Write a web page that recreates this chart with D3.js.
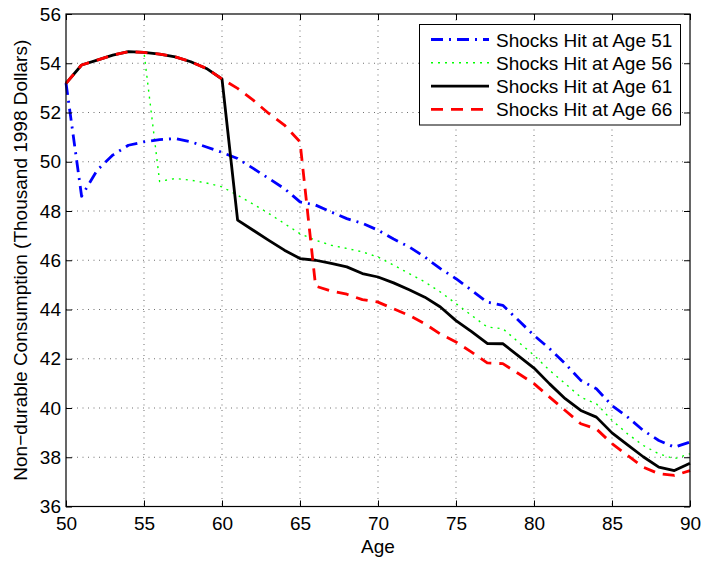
<!DOCTYPE html>
<html><head><meta charset="utf-8">
<script src="https://cdn.jsdelivr.net/npm/d3@7"></script>
<style>body{margin:0;background:#fff}svg{display:block}text{font-family:"Liberation Sans",Arial,sans-serif}</style>
</head><body><svg id="c" width="704" height="561"></svg>
<script>
const ages = d3.range(50, 91);
const xTicks = [50,55,60,65,70,75,80,85,90];
const yTicks = [36,38,40,42,44,46,48,50,52,54,56];
const seriesNames = ["Shocks Hit at Age 51","Shocks Hit at Age 56","Shocks Hit at Age 61","Shocks Hit at Age 66"];
const age51 = [53.2,48.6,49.66,50.27,50.67,50.81,50.9,50.94,50.81,50.6,50.38,50.13,49.73,49.32,48.91,48.37,48.24,47.96,47.69,47.5,47.22,46.86,46.54,46.13,45.66,45.25,44.78,44.3,44.17,43.56,42.95,42.41,41.8,41.12,40.78,40.1,39.63,39.09,38.68,38.41,38.62];
const age56 = [53.18,53.93,54.13,54.33,54.47,54.44,49.2,49.32,49.25,49.14,48.98,48.64,48.28,47.9,47.49,47.08,46.81,46.61,46.48,46.34,46.13,45.8,45.46,45.12,44.71,44.24,43.76,43.29,43.22,42.68,42.14,41.53,40.99,40.44,40.17,39.5,38.95,38.48,38.14,37.94,38.14];
const age61 = [53.18,53.93,54.13,54.33,54.47,54.44,54.37,54.26,54.06,53.79,53.36,47.63,47.22,46.81,46.41,46.07,46.0,45.87,45.73,45.46,45.32,45.08,44.8,44.5,44.1,43.55,43.1,42.62,42.61,42.12,41.62,40.98,40.38,39.9,39.63,38.99,38.5,38.02,37.6,37.46,37.76];
const age66 = [53.18,53.93,54.13,54.33,54.47,54.44,54.37,54.26,54.06,53.79,53.36,52.98,52.5,51.96,51.49,50.81,44.95,44.75,44.62,44.4,44.3,44.03,43.76,43.42,43.0,42.68,42.27,41.83,41.8,41.4,40.99,40.44,39.9,39.36,39.15,38.55,38.07,37.6,37.33,37.26,37.46];

const svg = d3.select("#c");
const L=66,R=690,T=14,B=506.5;
const FS=19;
const x = d3.scaleLinear().domain([50,90]).range([L,R]);
const y = d3.scaleLinear().domain([36,56]).range([B,T]);

// grid
const grid = svg.append("g").attr("stroke","#000").attr("stroke-width",0.8).attr("stroke-dasharray","1,4.5").attr("opacity",0.7);
xTicks.slice(1,-1).forEach(t=>grid.append("line").attr("x1",x(t)).attr("x2",x(t)).attr("y1",T).attr("y2",B));
yTicks.slice(1,-1).forEach(t=>grid.append("line").attr("x1",L).attr("x2",R).attr("y1",y(t)).attr("y2",y(t)));

const styles = [
  {data:age51,color:"#0000ff",w:2.8,dash:"12,6,2,6"},
  {data:age56,color:"#00ff00",w:1.4,dash:"2,5"},
  {data:age61,color:"#000000",w:2.8,dash:null},
  {data:age66,color:"#ff0000",w:2.8,dash:"12,8"}
];
const line = d3.line().x((d,i)=>x(ages[i])).y(d=>y(d));
[1,0,2,3].forEach(k=>{
  const s=styles[k];
  svg.append("path").datum(s.data).attr("d",line).attr("fill","none")
    .attr("stroke",s.color).attr("stroke-width",s.w).attr("stroke-dasharray",s.dash)
    .attr("stroke-linejoin","round");
});

// axes (box with inward ticks)
const ax = d3.axisBottom(x).tickValues(xTicks).tickSizeInner(-6).tickSizeOuter(0).tickPadding(10);
svg.append("g").attr("transform",`translate(0,${B})`).call(ax);
const axt = d3.axisTop(x).tickValues(xTicks).tickSizeInner(-6).tickSizeOuter(0).tickFormat("");
svg.append("g").attr("transform",`translate(0,${T})`).call(axt);
const ay = d3.axisLeft(y).tickValues(yTicks).tickSizeInner(-6).tickSizeOuter(0).tickPadding(5);
svg.append("g").attr("transform",`translate(${L},0)`).call(ay);
const ayr = d3.axisRight(y).tickValues(yTicks).tickSizeInner(-6).tickSizeOuter(0).tickFormat("");
svg.append("g").attr("transform",`translate(${R},0)`).call(ayr);
svg.selectAll(".domain").remove();
svg.selectAll(".tick line").attr("stroke","#000").attr("stroke-width",1);
svg.selectAll(".tick text").attr("font-size",FS).attr("fill","#000").attr("font-family","Liberation Sans, Arial, sans-serif");
svg.append("rect").attr("x",L).attr("y",T).attr("width",R-L).attr("height",B-T).attr("fill","none").attr("stroke","#000").attr("stroke-width",1.2);

svg.append("text").attr("x",(L+R)/2).attr("y",553).attr("text-anchor","middle").attr("font-size",FS).text("Age");
svg.append("text").attr("transform",`translate(27,${(T+B)/2}) rotate(-90)`).attr("text-anchor","middle").attr("font-size",FS).text("Non\u2212durable Consumption (Thousand 1998 Dollars)");

// legend
const lg = svg.append("g");
lg.append("rect").attr("x",419.5).attr("y",24.5).attr("width",261).attr("height",100.5).attr("fill","#fff").attr("stroke","#000").attr("stroke-width",1);
styles.forEach((s,i)=>{
  const yy = 39.5 + i*23.3;
  lg.append("line").attr("x1",431).attr("x2",489).attr("y1",yy).attr("y2",yy)
    .attr("stroke",s.color).attr("stroke-width",s.w).attr("stroke-dasharray",s.dash);
  lg.append("text").attr("x",496).attr("y",yy+7).attr("font-size",FS).text(seriesNames[i]);
});
</script></body></html>
